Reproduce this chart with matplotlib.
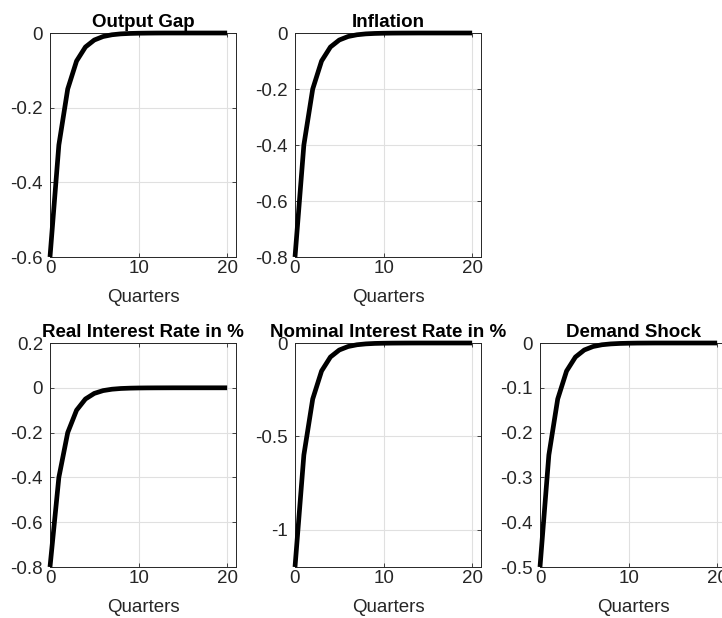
import matplotlib
matplotlib.use("Agg")
import matplotlib.pyplot as plt

plt.rcParams['font.family'] = ['Liberation Sans', 'DejaVu Sans']

### DATA

quarters = list(range(21))

output_gap = [-0.6, -0.3, -0.15, -0.075, -0.0375, -0.0188, -0.0094, -0.0047, -0.0023, -0.0012,
              -0.0006, -0.0003, -0.0001, 0, 0, 0, 0, 0, 0, 0, 0]
inflation = [-0.8, -0.4, -0.2, -0.1, -0.05, -0.025, -0.0125, -0.0063, -0.0031, -0.0016,
             -0.0008, -0.0004, -0.0002, -0.0001, 0, 0, 0, 0, 0, 0, 0]
real_rate = [-0.8, -0.4, -0.2, -0.1, -0.05, -0.025, -0.0125, -0.0063, -0.0031, -0.0016,
             -0.0008, -0.0004, -0.0002, -0.0001, 0, 0, 0, 0, 0, 0, 0]
nominal_rate = [-1.2, -0.6, -0.3, -0.15, -0.075, -0.0375, -0.0188, -0.0094, -0.0047, -0.0023,
                -0.0012, -0.0006, -0.0003, -0.0001, 0, 0, 0, 0, 0, 0, 0]
demand_shock = [-0.5, -0.25, -0.125, -0.0625, -0.0313, -0.0156, -0.0078, -0.0039, -0.002, -0.001,
                -0.0005, -0.0002, -0.0001, 0, 0, 0, 0, 0, 0, 0, 0]

titles = ["Output Gap", "Inflation", "Real Interest Rate in %",
          "Nominal Interest Rate in %", "Demand Shock"]
series = [output_gap, inflation, real_rate, nominal_rate, demand_shock]
ylims = [(-0.6, 0), (-0.8, 0), (-0.8, 0.2), (-1.2, 0), (-0.5, 0)]
yticks = [[-0.6, -0.4, -0.2, 0],
          [-0.8, -0.6, -0.4, -0.2, 0],
          [-0.8, -0.6, -0.4, -0.2, 0, 0.2],
          [-1, -0.5, 0],
          [-0.5, -0.4, -0.3, -0.2, -0.1, 0]]
ytick_labels = [["-0.6", "-0.4", "-0.2", "0"],
                ["-0.8", "-0.6", "-0.4", "-0.2", "0"],
                ["-0.8", "-0.6", "-0.4", "-0.2", "0", "0.2"],
                ["-1", "-0.5", "0"],
                ["-0.5", "-0.4", "-0.3", "-0.2", "-0.1", "0"]]

### LAYOUT (figure fractions, MATLAB-like subplot grid)

W, H = 722, 618
lefts = [50, 295, 50, 295, 540]
tops = [33, 33, 343, 343, 343]
ax_w, ax_h = 186, 224

fig = plt.figure(figsize=(W / 100, H / 100), dpi=100)
fig.patch.set_facecolor("white")

dark = "#262626"
fs = 13.5

for i in range(5):
    rect = [lefts[i] / W, (H - tops[i] - ax_h) / H, ax_w / W, ax_h / H]
    ax = fig.add_axes(rect)
    ax.plot(quarters, series[i], color="black", linewidth=3.4, solid_joinstyle="round",
            solid_capstyle="butt", clip_on=False, zorder=3)
    ax.set_xlim(0, 21)
    ax.set_ylim(*ylims[i])
    ax.set_xticks([0, 10, 20])
    ax.set_xticklabels(["0", "10", "20"])
    ax.set_yticks(yticks[i])
    ax.set_yticklabels(ytick_labels[i])
    ax.grid(True, color="#e0e0e0", linewidth=0.8)
    ax.set_axisbelow(True)
    ax.tick_params(direction="in", length=3, width=0.6, top=True, right=True,
                   colors=dark, labelsize=fs)
    ax.tick_params(axis="y", pad=5)
    ax.tick_params(axis="x", pad=2)
    for s in ax.spines.values():
        s.set_color(dark)
        s.set_linewidth(0.7)
    ax.set_xlabel("Quarters", fontsize=fs, color=dark, labelpad=9)
    ax.set_title(titles[i], fontsize=fs, fontweight="bold", color="black", pad=4)

fig.savefig("out.png", dpi=100)
